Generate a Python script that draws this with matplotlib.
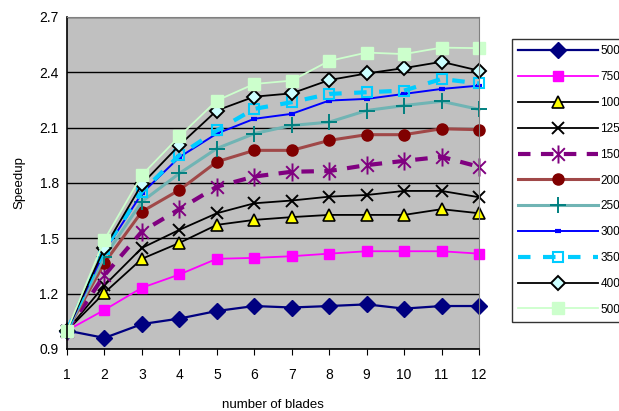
import matplotlib
matplotlib.use("Agg")
import matplotlib.pyplot as plt
from matplotlib.path import Path

plt.rcParams['font.family'] = ['Liberation Sans', 'DejaVu Sans']

blades = [1, 2, 3, 4, 5, 6, 7, 8, 9, 10, 11, 12]
series_labels = ["500", "750", "1000", "1250", "1500", "2000", "2500", "3000", "3500", "4000", "5000"]

s500 = [1.0, 0.96, 1.035, 1.065, 1.106, 1.133, 1.125, 1.133, 1.142, 1.119, 1.133, 1.133]
s750 = [1.0, 1.112, 1.232, 1.304, 1.389, 1.394, 1.403, 1.417, 1.43, 1.43, 1.43, 1.417]
s1000 = [1.0, 1.205, 1.389, 1.475, 1.573, 1.60, 1.615, 1.627, 1.627, 1.627, 1.658, 1.636]
s1250 = [1.0, 1.245, 1.448, 1.546, 1.636, 1.69, 1.705, 1.726, 1.735, 1.757, 1.757, 1.723]
s1500 = [1.0, 1.30, 1.537, 1.658, 1.78, 1.835, 1.861, 1.865, 1.897, 1.92, 1.942, 1.888]
s2000 = [1.0, 1.367, 1.645, 1.762, 1.915, 1.977, 1.977, 2.031, 2.062, 2.062, 2.094, 2.089]
s2500 = [1.0, 1.40, 1.699, 1.852, 1.987, 2.068, 2.112, 2.13, 2.193, 2.22, 2.243, 2.199]
s3000 = [1.0, 1.43, 1.744, 1.94, 2.068, 2.148, 2.175, 2.247, 2.256, 2.283, 2.31, 2.328]
s3500 = [1.0, 1.44, 1.753, 1.951, 2.085, 2.202, 2.238, 2.283, 2.292, 2.301, 2.364, 2.34]
s4000 = [1.0, 1.448, 1.794, 2.005, 2.193, 2.268, 2.286, 2.358, 2.394, 2.423, 2.457, 2.409]
s5000 = [1.0, 1.493, 1.843, 2.053, 2.247, 2.337, 2.355, 2.462, 2.507, 2.499, 2.534, 2.531]

yticks = [0.9, 1.2, 1.5, 1.8, 2.1, 2.4, 2.7]

# Excel-like asterisk marker: X plus vertical bar
star = Path([(-0.7, -0.7), (0.7, 0.7), (-0.7, 0.7), (0.7, -0.7), (0, -1), (0, 1)],
            [Path.MOVETO, Path.LINETO, Path.MOVETO, Path.LINETO, Path.MOVETO, Path.LINETO])

fig = plt.figure(figsize=(6.19, 4.11), dpi=100)
ax = fig.add_axes([67/619, 1 - 349/411, (479-67)/619, (349-17)/411])
ax.set_facecolor('#C0C0C0')

styles = [
    (s500, dict(color='#000080', lw=1.6, marker='D', ms=8, mfc='#000080', mec='#000080')),
    (s750, dict(color='#FF00FF', lw=1.3, marker='s', ms=7.5, mfc='#FF00FF', mec='#FF00FF')),
    (s1000, dict(color='black', lw=1.3, marker='^', ms=8, mfc='#FFFF00', mec='black', mew=1.2)),
    (s1250, dict(color='black', lw=1.3, marker='x', ms=8, mec='black', mew=1.4)),
    (s1500, dict(color='#800080', lw=3, ls=(0, (3, 2.5)), marker=star, ms=13, mec='#800080', mew=1.4)),
    (s2000, dict(color='#A04848', lw=2.2, marker='o', ms=8, mfc='#800000', mec='#800000')),
    (s2500, dict(color='#70B4B4', lw=2.2, marker='+', ms=11, mec='#008080', mew=1.4)),
    (s3000, dict(color='#0000FF', lw=1.4, marker='_', ms=5, mec='#0000FF', mew=3)),
    (s3500, dict(color='#00CCFF', lw=3, ls=(0, (3, 3)), marker='s', ms=7, mfc='none', mec='#00CCFF', mew=1.5)),
    (s4000, dict(color='black', lw=1.3, marker='D', ms=7, mfc='#CCFFFF', mec='black', mew=1.4)),
    (s5000, dict(color='#CCFFCC', lw=1.3, marker='s', ms=9, mfc='#CCFFCC', mec='#CCFFCC')),
]

for (vals, st), lab in zip(styles, series_labels):
    ax.plot(blades, vals, label=lab, clip_on=False, **st)

ax.set_xlim(1, 12)
ax.set_ylim(0.9, 2.7)
ax.set_xticks(blades)
ax.set_yticks(yticks)
ax.set_yticklabels([f"{v:.1f}" for v in yticks])
ax.yaxis.grid(True, color='black', lw=1)
ax.set_axisbelow(True)
ax.tick_params(axis='both', direction='out', length=4, labelsize=10, colors='black')
ax.tick_params(axis='x', pad=10)
ax.tick_params(axis='y', length=0, pad=6)
for s in ['top', 'right']:
    ax.spines[s].set_color('#808080')
for s in ['left', 'bottom']:
    ax.spines[s].set_color('black')
    ax.spines[s].set_linewidth(1.2)

ax.set_ylabel('Speedup', fontsize=9.5, labelpad=10)
ax.set_xlabel('number of blades', fontsize=9.5, labelpad=12)

leg = fig.legend(loc='upper left', bbox_to_anchor=(512/619, 1 - 39/411),
                 bbox_transform=fig.transFigure, fontsize=8.5, frameon=True,
                 fancybox=False, handlelength=6.7, labelspacing=1.17,
                 borderaxespad=0, borderpad=0.55, handletextpad=0.25, edgecolor='black')
leg.get_frame().set_linewidth(1)

fig.savefig('out.png', dpi=100)
